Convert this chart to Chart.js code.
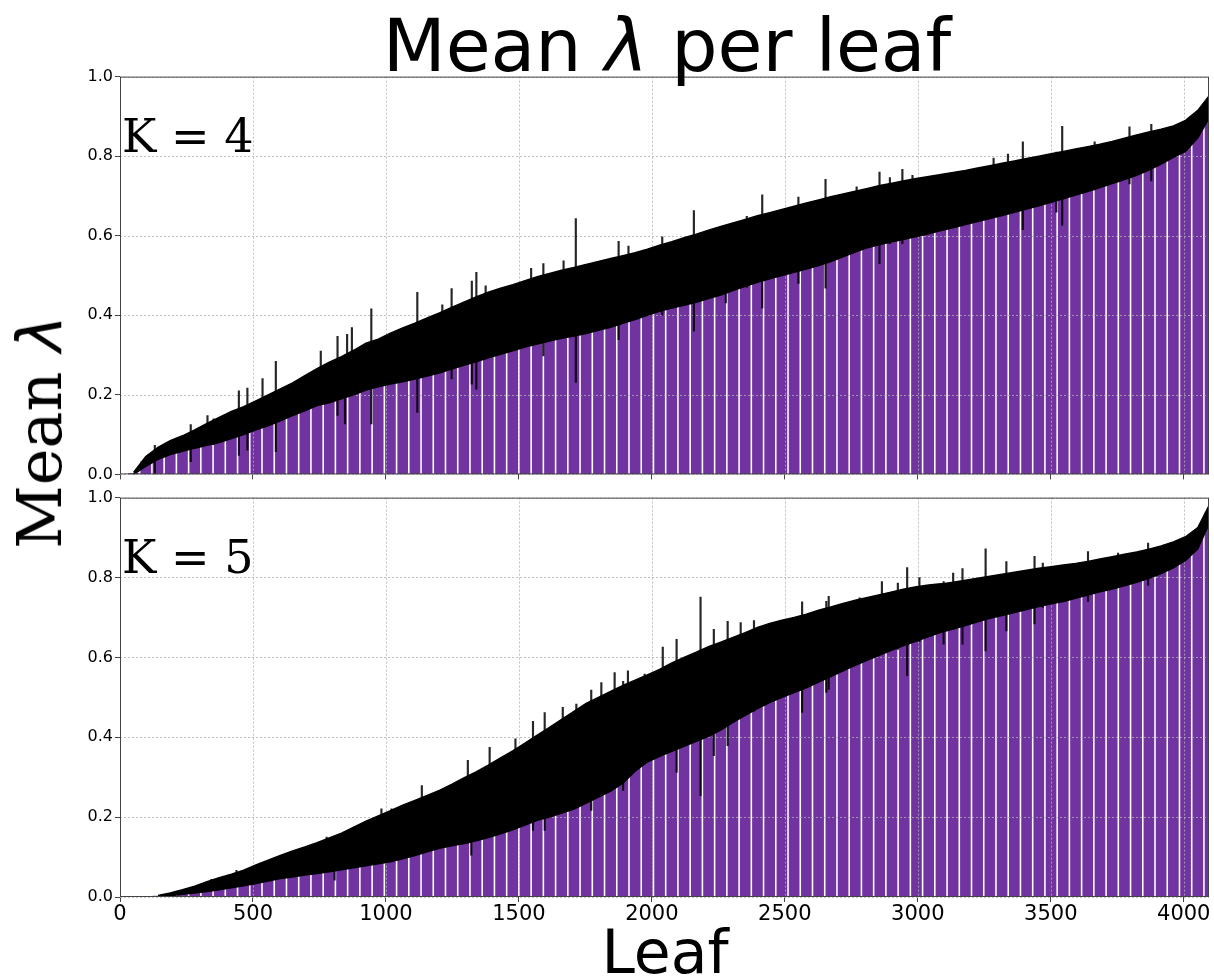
<!DOCTYPE html>
<html>
<head>
<meta charset="utf-8">
<script src="https://cdn.jsdelivr.net/npm/chart.js@4.4.0/dist/chart.umd.min.js"></script>
<style>
  html, body { margin: 0; padding: 0; background: #fff; width: 1214px; height: 976px; overflow: hidden; }
  body { position: relative; }
  canvas { position: absolute; left: 0; }
  #c4 { top: 65px; }
  #c5 { top: 486px; }
  .txt { position: absolute; white-space: nowrap; color: #000; z-index: 2; }
</style>
</head>
<body>
<canvas id="c4" width="1214" height="421"></canvas>
<canvas id="c5" width="1214" height="490"></canvas>

<div class="txt" style="left:667px; top:9px; font:73px/1 'DejaVu Sans'; transform:translateX(-50%)">Mean <i>λ</i> per leaf</div>
<div class="txt" style="left:40px; top:432px; font:62px/1 'DejaVu Serif'; transform:translate(-50%,-50%) rotate(-90deg)">Mean <i style="font-family:'DejaVu Sans'">λ</i></div>
<div class="txt" style="left:122px; top:113px; font:46px/1 'DejaVu Serif'">K = 4</div>
<div class="txt" style="left:122px; top:534px; font:46px/1 'DejaVu Serif'">K = 5</div>
<div class="txt" style="left:665px; top:922px; font:60px/1 'DejaVu Sans'; transform:translateX(-50%)">Leaf</div>

<script>
// leaf index of each sampled bar (one visible stripe every ~46 leaves)
const leaves = [51, 97, 143, 189, 235, 281, 327, 373, 419, 465,
  511, 557, 603, 649, 695, 741, 787, 833, 879, 925,
  971, 1017, 1063, 1109, 1155, 1201, 1247, 1293, 1339, 1385,
  1431, 1477, 1523, 1569, 1615, 1661, 1707, 1753, 1799, 1845,
  1891, 1937, 1983, 2029, 2075, 2121, 2167, 2213, 2259, 2305,
  2351, 2397, 2443, 2489, 2535, 2581, 2627, 2673, 2719, 2765,
  2811, 2857, 2903, 2949, 2995, 3041, 3087, 3133, 3179, 3225,
  3271, 3317, 3363, 3409, 3455, 3501, 3547, 3593, 3639, 3685,
  3731, 3777, 3823, 3869, 3915, 3961, 4007, 4053, 4099];

// K = 4: lower / upper edge of the error band (mean -/+ err)
const k4Lower = [0.000, 0.020, 0.038, 0.050, 0.058, 0.066, 0.073, 0.080, 0.090, 0.100,
  0.112, 0.122, 0.135, 0.148, 0.160, 0.173, 0.180, 0.190, 0.200, 0.212,
  0.220, 0.227, 0.233, 0.240, 0.247, 0.255, 0.265, 0.274, 0.283, 0.293,
  0.302, 0.311, 0.320, 0.328, 0.335, 0.342, 0.348, 0.354, 0.362, 0.370,
  0.380, 0.389, 0.400, 0.410, 0.418, 0.425, 0.433, 0.442, 0.451, 0.462,
  0.473, 0.483, 0.492, 0.500, 0.508, 0.516, 0.525, 0.535, 0.547, 0.559,
  0.570, 0.578, 0.585, 0.591, 0.598, 0.605, 0.613, 0.620, 0.628, 0.636,
  0.643, 0.651, 0.659, 0.667, 0.675, 0.684, 0.693, 0.702, 0.711, 0.721,
  0.731, 0.741, 0.752, 0.765, 0.780, 0.797, 0.812, 0.846, 0.900];
const k4Upper = [0.005, 0.045, 0.068, 0.085, 0.097, 0.112, 0.128, 0.143, 0.158, 0.170,
  0.185, 0.200, 0.215, 0.230, 0.248, 0.266, 0.282, 0.296, 0.312, 0.330,
  0.340, 0.355, 0.368, 0.380, 0.393, 0.406, 0.420, 0.433, 0.446, 0.458,
  0.468, 0.477, 0.487, 0.497, 0.505, 0.513, 0.520, 0.528, 0.535, 0.543,
  0.550, 0.557, 0.566, 0.576, 0.585, 0.595, 0.604, 0.614, 0.623, 0.632,
  0.641, 0.650, 0.658, 0.666, 0.674, 0.682, 0.690, 0.698, 0.705, 0.712,
  0.719, 0.726, 0.732, 0.738, 0.744, 0.749, 0.754, 0.759, 0.764, 0.770,
  0.776, 0.782, 0.788, 0.794, 0.800, 0.806, 0.812, 0.818, 0.824, 0.830,
  0.837, 0.845, 0.853, 0.861, 0.868, 0.876, 0.890, 0.915, 0.955];

// K = 4: single error bars sticking out of the band
const k4SpikeLeaf = [131, 266, 329, 352, 447, 479, 536, 586, 755, 818, 846, 854, 872, 945,
  1118, 1212, 1247, 1323, 1340, 1375, 1546, 1592, 1668, 1714, 1875, 1912,
  2039, 2158, 2278, 2357, 2415, 2551, 2653, 2770, 2856, 2895, 2942, 2980,
  3285, 3339, 3395, 3521, 3543, 3665, 3796, 3878];
const k4SpikeLow = [0.000, 0.032, 0.080, 0.075, 0.048, 0.061, 0.130, 0.057, 0.180, 0.148, 0.127, 0.200, 0.200, 0.127,
  0.156, 0.270, 0.240, 0.227, 0.214, 0.290, 0.330, 0.298, 0.345, 0.231, 0.339, 0.385,
  0.400, 0.360, 0.431, 0.470, 0.418, 0.480, 0.468, 0.560, 0.530, 0.580, 0.580, 0.595,
  0.650, 0.655, 0.615, 0.659, 0.626, 0.715, 0.730, 0.738];
const k4SpikeHigh = [0.073, 0.125, 0.148, 0.140, 0.210, 0.217, 0.241, 0.284, 0.310, 0.347, 0.300, 0.352, 0.369, 0.416,
  0.458, 0.426, 0.467, 0.486, 0.508, 0.474, 0.518, 0.530, 0.537, 0.643, 0.586, 0.574,
  0.597, 0.663, 0.620, 0.649, 0.703, 0.697, 0.742, 0.723, 0.760, 0.746, 0.767, 0.752,
  0.795, 0.805, 0.836, 0.810, 0.875, 0.836, 0.874, 0.880];

// K = 5
const k5Lower = [null, null, 0.000, 0.003, 0.007, 0.010, 0.014, 0.018, 0.023, 0.028,
  0.034, 0.040, 0.046, 0.050, 0.055, 0.059, 0.063, 0.068, 0.073, 0.078,
  0.083, 0.088, 0.096, 0.104, 0.113, 0.122, 0.128, 0.134, 0.141, 0.149,
  0.158, 0.168, 0.180, 0.192, 0.200, 0.210, 0.220, 0.235, 0.250, 0.265,
  0.285, 0.315, 0.338, 0.352, 0.365, 0.377, 0.390, 0.402, 0.418, 0.437,
  0.455, 0.472, 0.487, 0.500, 0.512, 0.524, 0.538, 0.552, 0.566, 0.580,
  0.593, 0.606, 0.618, 0.630, 0.641, 0.652, 0.663, 0.671, 0.680, 0.689,
  0.698, 0.705, 0.712, 0.720, 0.727, 0.734, 0.740, 0.748, 0.756, 0.764,
  0.771, 0.779, 0.788, 0.798, 0.810, 0.824, 0.843, 0.872, 0.940];
const k5Upper = [null, null, 0.004, 0.010, 0.018, 0.027, 0.038, 0.048, 0.057, 0.067,
  0.080, 0.092, 0.104, 0.115, 0.125, 0.136, 0.148, 0.160, 0.175, 0.190,
  0.203, 0.216, 0.230, 0.242, 0.254, 0.267, 0.282, 0.298, 0.313, 0.330,
  0.348, 0.366, 0.385, 0.405, 0.425, 0.445, 0.465, 0.485, 0.500, 0.515,
  0.530, 0.543, 0.556, 0.570, 0.586, 0.600, 0.613, 0.627, 0.638, 0.650,
  0.662, 0.675, 0.685, 0.693, 0.700, 0.708, 0.718, 0.726, 0.735, 0.743,
  0.750, 0.757, 0.764, 0.771, 0.777, 0.781, 0.784, 0.788, 0.793, 0.798,
  0.803, 0.808, 0.813, 0.818, 0.823, 0.827, 0.831, 0.835, 0.840, 0.846,
  0.852, 0.858, 0.864, 0.871, 0.879, 0.889, 0.902, 0.925, 0.985];

const k5SpikeLeaf = [344, 438, 569, 688, 777, 807, 870, 983, 1021, 1135,
  1308, 1321, 1390, 1487, 1553, 1597, 1665, 1716, 1772, 1810, 1860, 1892, 1910, 1973,
  2041, 2093, 2183, 2233, 2285, 2334, 2384, 2565, 2656, 2665, 2781, 2865, 2925, 2960,
  3006, 3097, 3133, 3168, 3255, 3333, 3439, 3470, 3640, 3753, 3866];
const k5SpikeLow = [0.015, 0.030, 0.040, 0.055, 0.062, 0.042, 0.075, 0.085, 0.090, 0.120,
  0.135, 0.105, 0.150, 0.175, 0.167, 0.167, 0.220, 0.230, 0.217, 0.255, 0.300, 0.267, 0.300, 0.335,
  0.360, 0.312, 0.254, 0.354, 0.379, 0.450, 0.465, 0.462, 0.512, 0.520, 0.585, 0.610, 0.620, 0.554,
  0.640, 0.633, 0.670, 0.633, 0.616, 0.666, 0.684, 0.725, 0.740, 0.775, 0.780];
const k5SpikeHigh = [0.044, 0.067, 0.092, 0.117, 0.150, 0.150, 0.171, 0.221, 0.221, 0.279,
  0.342, 0.300, 0.375, 0.396, 0.440, 0.462, 0.475, 0.483, 0.518, 0.537, 0.562, 0.540, 0.566, 0.558,
  0.626, 0.645, 0.751, 0.670, 0.690, 0.687, 0.692, 0.739, 0.740, 0.753, 0.749, 0.790, 0.786, 0.825,
  0.800, 0.790, 0.811, 0.822, 0.872, 0.840, 0.853, 0.836, 0.865, 0.861, 0.886];

const xTicks = [0, 500, 1000, 1500, 2000, 2500, 3000, 3500, 4000];
const yTicks = [0.0, 0.2, 0.4, 0.6, 0.8, 1.0];

const PURPLE = "#7133a0";
Chart.defaults.font.family = "DejaVu Sans";

// grid sits above the bars but under the error bars, like matplotlib
const gridAndFrame = {
	id: "gridAndFrame",
	afterDatasetDraw(chart, args) {
		if (args.index !== 0) return;
		const { ctx, chartArea: a, scales } = chart;
		ctx.save();
		ctx.strokeStyle = "#b0b0b0";
		ctx.lineWidth = 0.8;
		ctx.setLineDash([2, 2]);
		ctx.beginPath();
		xTicks.forEach((v) => {
			const px = Math.round(scales.x.getPixelForValue(v)) + 0.5;
			ctx.moveTo(px, a.top);
			ctx.lineTo(px, a.bottom);
		});
		yTicks.forEach((v) => {
			const py = Math.round(scales.y.getPixelForValue(v)) + 0.5;
			ctx.moveTo(a.left, py);
			ctx.lineTo(a.right, py);
		});
		ctx.stroke();
		ctx.restore();
	},
	afterDraw(chart) {
		const { ctx, chartArea: a } = chart;
		ctx.save();
		ctx.strokeStyle = "#444";
		ctx.lineWidth = 1;
		ctx.strokeRect(a.left + 0.5, a.top + 0.5, a.right - a.left - 1, a.bottom - a.top - 1);
		ctx.restore();
	},
};

function makePanel(id, lower, upper, spikeLeaf, spikeLow, spikeHigh, bottom) {
	const bars = leaves.map((x, i) => ({ x, y: lower[i] === null ? null : (lower[i] + upper[i]) / 2 }));
	const up = leaves.map((x, i) => ({ x, y: upper[i] }));
	const lo = leaves.map((x, i) => ({ x, y: lower[i] }));
	const spikes = spikeLeaf.map((x, i) => ({ x, y: [spikeLow[i], spikeHigh[i]] }));

	return new Chart(document.getElementById(id), {
		type: "bar",
		data: {
			datasets: [
				{ type: "bar", data: bars, backgroundColor: PURPLE, barThickness: 10, grouped: false, order: 3 },
				{ type: "line", data: up, borderColor: "#000", backgroundColor: "#000", borderWidth: 1.5, pointRadius: 0, fill: "+1", order: 2 },
				{ type: "line", data: lo, borderColor: "#000", borderWidth: 1.5, pointRadius: 0, fill: false, order: 2 },
				{ type: "bar", data: spikes, backgroundColor: "rgba(0,0,0,0.85)", barThickness: 1.5, grouped: false, order: 1 },
			],
		},
		options: {
			responsive: false,
			animation: false,
			layout: { padding: { top: 10, right: 5, left: 0, bottom: 0 }, autoPadding: false },
			plugins: { legend: { display: false }, tooltip: { enabled: false } },
			scales: {
				x: {
					type: "linear",
					min: 0,
					max: 4095,
					offset: false,
					afterBuildTicks: (s) => { s.ticks = xTicks.map((v) => ({ value: v })); },
					ticks: {
						display: bottom,
						autoSkip: false,
						maxRotation: 0,
						padding: 0,
						color: "#000",
						font: { size: 21 },
						callback: (v) => String(v),
					},
					grid: { offset: false, drawOnChartArea: false, drawTicks: true, tickLength: 5, tickColor: "#444", tickWidth: 1 },
					border: { display: false },
					afterFit: (s) => { s.height = bottom ? 79 : 10; },
				},
				y: {
					min: 0,
					max: 1,
					afterBuildTicks: (s) => { s.ticks = yTicks.map((v) => ({ value: v })); },
					ticks: {
						padding: 2,
						color: "#000",
						font: { size: 16 },
						callback: (v) => v.toFixed(1),
					},
					grid: { offset: false, drawOnChartArea: false, drawTicks: true, tickLength: 5, tickColor: "#444", tickWidth: 1 },
					border: { display: false },
					afterFit: (s) => { s.width = 120; },
				},
			},
		},
		plugins: [gridAndFrame],
	});
}

makePanel("c4", k4Lower, k4Upper, k4SpikeLeaf, k4SpikeLow, k4SpikeHigh, false);
makePanel("c5", k5Lower, k5Upper, k5SpikeLeaf, k5SpikeLow, k5SpikeHigh, true);
</script>
</body>
</html>
